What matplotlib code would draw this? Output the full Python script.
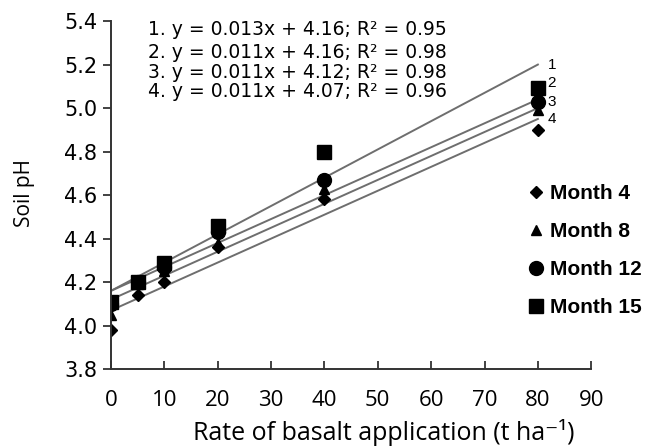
import numpy as np
import matplotlib
matplotlib.use("Agg")
import matplotlib.pyplot as plt

# basalt rate (t/ha)
rates = [0, 5, 10, 20, 40, 80]

# soil pH
month4 = [3.98, 4.14, 4.20, 4.36, 4.58, 4.90]
month8 = [4.05, 4.19, 4.25, 4.38, 4.63, 4.99]
month12 = [4.10, 4.20, 4.27, 4.43, 4.67, 5.03]
month15 = [4.11, 4.20, 4.29, 4.46, 4.80, 5.09]

# fitted lines: slope, intercept, r2
slopes = [0.013, 0.011, 0.011, 0.011]
intercepts = [4.16, 4.16, 4.12, 4.07]
r2 = [0.95, 0.98, 0.98, 0.96]

xticks = [0, 10, 20, 30, 40, 50, 60, 70, 80, 90]
yticks = [3.8, 4.0, 4.2, 4.4, 4.6, 4.8, 5.0, 5.2, 5.4]

fig = plt.figure(figsize=(6.49, 4.48), dpi=100)
ax = fig.add_axes([0.171, 0.176, 0.740, 0.777])

# line numbers sit a bit apart so they don't collide
num_dy = [0.0, 0.075, 0.03, 0.0]
xfit = np.array([0, 80])
for i, (m, b) in enumerate(zip(slopes, intercepts)):
    ax.plot(xfit, m * xfit + b, color="#6e6e6e", lw=1.4, zorder=1)
    ax.text(81.8, m * 80 + b + num_dy[i], str(i + 1), fontsize=11,
            family="Liberation Sans", va="center", ha="left")

ax.plot(rates, month4, "D", color="black", ms=6, ls="none", label="Month 4")
ax.plot(rates, month8, "^", color="black", ms=7.5, ls="none", label="Month 8")
ax.plot(rates, month12, "o", color="black", ms=10, ls="none", label="Month 12")
ax.plot(rates, month15, "s", color="black", ms=10, ls="none", label="Month 15")

# equations
eq_y = [5.361, 5.257, 5.165, 5.078]
for i in range(4):
    ax.text(6.9, eq_y[i],
            f"{i + 1}. y = {slopes[i]:.3f}x + {intercepts[i]:.2f}; R\u00b2 = {r2[i]:.2f}",
            fontsize=13.5, family="DejaVu Sans", va="center", ha="left")

ax.set_xlim(0, 90)
ax.set_ylim(3.8, 5.4)
ax.set_xticks(xticks)
ax.set_yticks(yticks)
ax.set_yticklabels([f"{v:.1f}" for v in yticks], family="DejaVu Sans", fontsize=15)
ax.set_xticklabels([str(v) for v in xticks], family="Open Sans", fontsize=16)
ax.tick_params(axis="x", direction="in", length=6, width=1.3, pad=15, color="#333333")
ax.tick_params(axis="y", direction="out", length=6, width=1.3, pad=4, color="#333333")
ax.spines["top"].set_visible(False)
ax.spines["right"].set_visible(False)
for s in ("left", "bottom"):
    ax.spines[s].set_color("#333333")
    ax.spines[s].set_linewidth(1.4)

ax.set_xlabel("Rate of basalt application (t ha\u207b\u00b9)",
              family=["Open Sans", "DejaVu Sans"], fontsize=18)
ax.xaxis.set_label_coords(0.569, -0.182)
ax.xaxis.label.set_verticalalignment("center")
ax.set_ylabel("Soil pH", family="Open Sans", fontsize=15)
ax.yaxis.set_label_coords(-0.18, 0.506)
ax.yaxis.label.set_verticalalignment("center")

ax.legend(loc="upper left", bbox_to_anchor=(0.854, 0.555), frameon=False,
          labelspacing=0.91, handlelength=0.6, handletextpad=0.4,
          borderaxespad=0.0,
          prop={"family": "Liberation Sans", "weight": "bold", "size": 15})

fig.savefig("out.png", dpi=100)
